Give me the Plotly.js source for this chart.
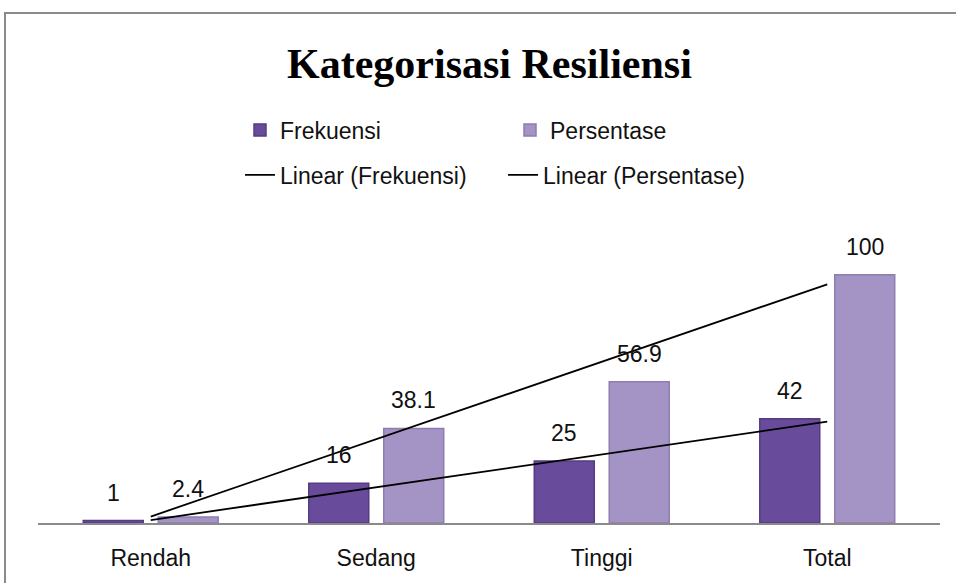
<!DOCTYPE html>
<html>
<head>
<meta charset="utf-8">
<script src="https://cdn.plot.ly/plotly-3.0.1.min.js"></script>
<style>
  body { margin: 0; background: #fff; }
  #chart { width: 956px; height: 583px; }
  #frame { position: absolute; left: 4px; top: 12px; width: 970px; height: 600px;
           border: 2px solid #8a8a8a; pointer-events: none; }
</style>
</head>
<body>
<div id="chart"></div>
<div id="frame"></div>
<script>
var categories = ['Rendah', 'Sedang', 'Tinggi', 'Total'];
var frekuensi = [1, 16, 25, 42];
var persentase = [2.4, 38.1, 56.9, 100];
// trendline end points as drawn (first and last category)
var trendX = ['Rendah', 'Total'];
var trendFrek = [1.2, 40.8];
var trendPers = [2.6, 96.1];

var labelFont = { family: 'Liberation Sans, Arial, sans-serif', size: 23, color: '#111' };

var trace1 = {
  x: categories,
  y: frekuensi,
  name: 'Frekuensi',
  type: 'bar',
  marker: { color: '#684b9b', line: { color: '#553b82', width: 1.5 } },
  legend: 'legend'
};

var trace2 = {
  x: categories,
  y: persentase,
  name: 'Persentase',
  type: 'bar',
  marker: { color: '#a493c5', line: { color: '#8e7db1', width: 1.5 } },
  legend: 'legend'
};

var trace3 = {
  x: trendX,
  y: trendFrek,
  name: 'Linear (Frekuensi)',
  type: 'scatter',
  mode: 'lines',
  line: { color: '#000', width: 1.8 },
  legend: 'legend2'
};

var trace4 = {
  x: trendX,
  y: trendPers,
  name: 'Linear (Persentase)',
  type: 'scatter',
  mode: 'lines',
  line: { color: '#000', width: 1.8 },
  legend: 'legend2'
};

var data = [trace1, trace2, trace3, trace4];

// value labels sit a bit above each bar
var annotations = [];
categories.forEach(function(c, i) {
  annotations.push({ x: c, y: frekuensi[i], text: String(frekuensi[i]), showarrow: false,
    xshift: -37.5, yshift: 28, font: labelFont });
  annotations.push({ x: c, y: persentase[i], text: String(persentase[i]), showarrow: false,
    xshift: 37.5, yshift: 28, font: labelFont });
});

var layout = {
  width: 956,
  height: 583,
  margin: { l: 38, r: 16, t: 225, b: 60 },
  paper_bgcolor: '#fff',
  plot_bgcolor: '#fff',
  title: {
    text: '<b>Kategorisasi Resiliensi</b>',
    font: { family: 'Liberation Serif, Times New Roman, serif', size: 42, color: '#000' },
    x: 0.512, xanchor: 'center',
    y: 1 - 63 / 583, yanchor: 'middle', yref: 'container'
  },
  barmode: 'group',
  bargap: 0.335,
  bargroupgap: 0.2,
  showlegend: true,
  legend: {
    orientation: 'h', xref: 'container', yref: 'container',
    x: 240 / 956, xanchor: 'left', y: 1 - 130 / 583, yanchor: 'middle',
    entrywidth: 225, font: labelFont, traceorder: 'normal'
  },
  legend2: {
    orientation: 'h', xref: 'container', yref: 'container',
    x: 240 / 956, xanchor: 'left', y: 1 - 175 / 583, yanchor: 'middle',
    entrywidth: 218, font: labelFont, traceorder: 'normal'
  },
  xaxis: {
    showline: true, linecolor: '#8a8a8a', linewidth: 1.5,
    ticks: '', showgrid: false, zeroline: false,
    tickfont: labelFont, ticklabelstandoff: 14
  },
  yaxis: {
    range: [0, 120], visible: false, showgrid: false, zeroline: false
  },
  annotations: annotations
};

Plotly.newPlot('chart', data, layout, { displayModeBar: false });
</script>
</body>
</html>
